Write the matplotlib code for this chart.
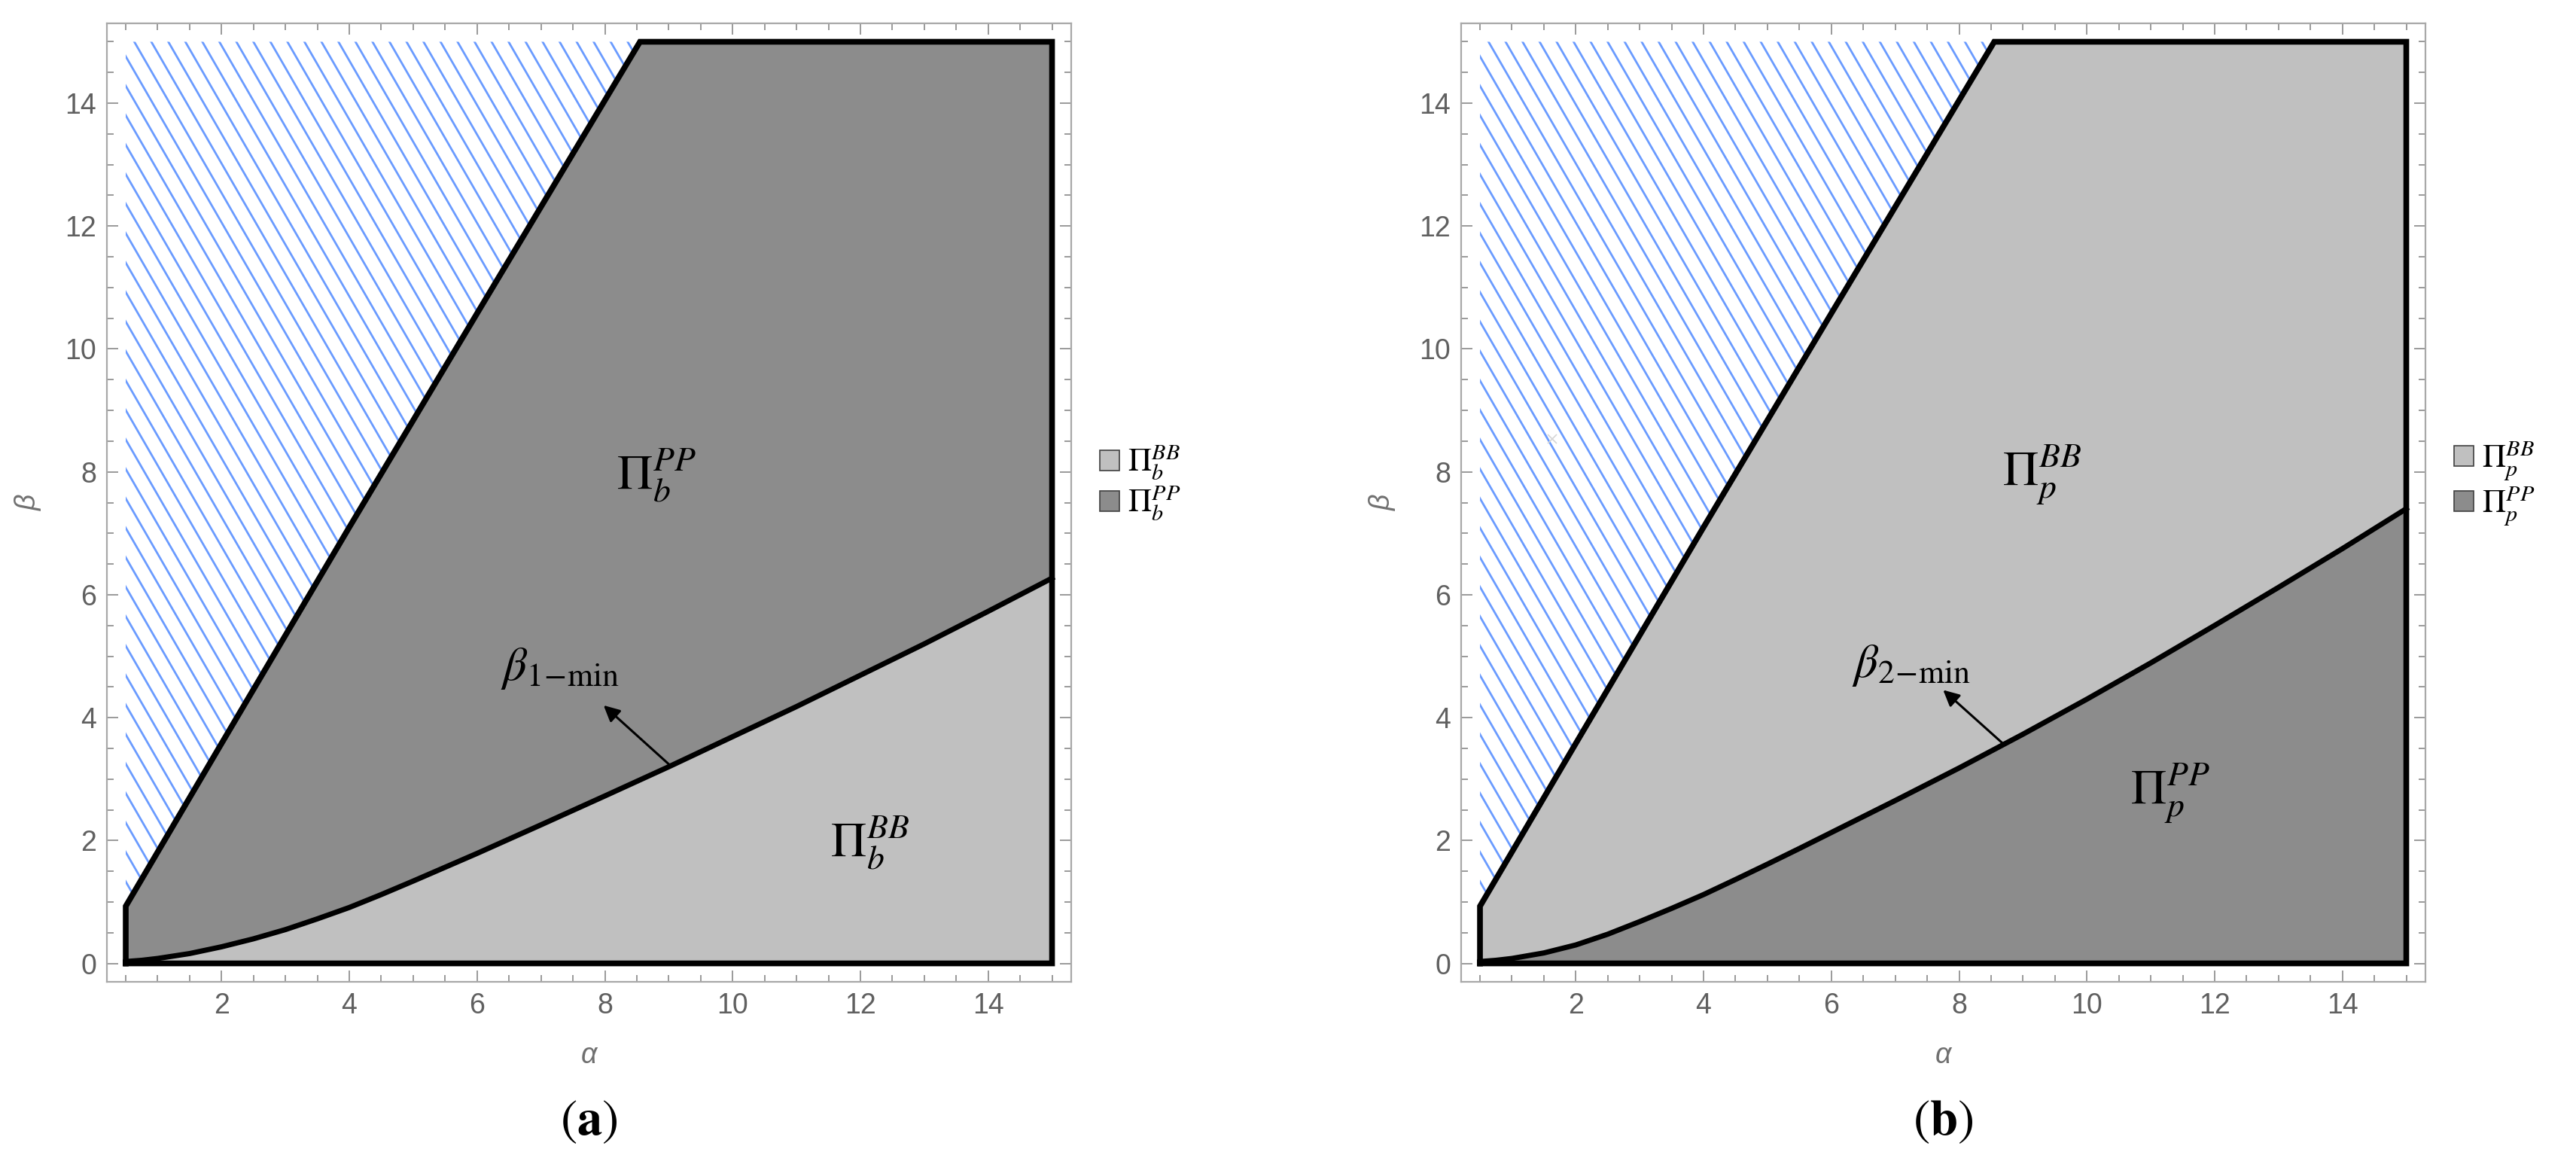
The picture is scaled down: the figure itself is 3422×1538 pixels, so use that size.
import numpy as np
import matplotlib
matplotlib.use("Agg")
import matplotlib.pyplot as plt
from matplotlib.patches import Polygon, Patch

plt.rcParams['mathtext.fontset'] = 'stix'
SANS = ['Liberation Sans Narrow', 'Liberation Sans', 'DejaVu Sans']

# ---------------- data ----------------
alpha_upper = [0.5, 2.0, 4.0, 6.0, 8.55]          # upper feasibility boundary
beta_upper = [0.93, 3.58, 7.10, 10.58, 15.0]
alpha_max = 15.0
beta_max = 15.0

alpha_curve = [0.5, 0.75, 1, 1.5, 2, 2.5, 3, 3.5, 4, 4.5, 5, 5.5, 6, 7, 8,
               9, 10, 11, 12, 13, 14, 15]
beta1_min = [0.03, 0.05, 0.08, 0.16, 0.27, 0.40, 0.55, 0.725, 0.91, 1.12,
             1.34, 1.565, 1.79, 2.255, 2.725, 3.20, 3.69, 4.18, 4.69, 5.20,
             5.73, 6.27]
beta2_min = [0.03, 0.05, 0.08, 0.17, 0.30, 0.475, 0.68, 0.895, 1.12, 1.365,
             1.615, 1.87, 2.13, 2.65, 3.18, 3.73, 4.30, 4.89, 5.50, 6.12,
             6.75, 7.40]

x_ticks = [2, 4, 6, 8, 10, 12, 14]
y_ticks = [0, 2, 4, 6, 8, 10, 12, 14]

panel_tags = ['a', 'b']
region_labels = [
    [r'$\Pi_b^{PP}$', r'$\Pi_b^{BB}$'],     # (above curve, below curve)
    [r'$\Pi_p^{BB}$', r'$\Pi_p^{PP}$'],
]
legend_labels = [
    [r'$\Pi_b^{BB}$', r'$\Pi_b^{PP}$'],
    [r'$\Pi_p^{BB}$', r'$\Pi_p^{PP}$'],
]
curve_labels = [r'$\beta_{1\!-\!\mathrm{min}}$', r'$\beta_{2\!-\!\mathrm{min}}$']

# label anchor positions (data coordinates)
label_above_xy = [(8.80, 7.95), (9.30, 7.95)]
label_below_xy = [(12.15, 1.96), (11.30, 2.77)]
curve_label_xy = [(7.30, 4.80), (7.25, 4.85)]
arrow_tip_xy = [(7.98, 4.20), (7.75, 4.45)]
arrow_base_alpha = [9.03, 8.70]
artifact_x = [[], [1.63]]
artifact_y = [[], [8.54]]

LIGHT = '#c0c0c0'
DARK = '#8c8c8c'
HATCH = '#6a9bff'
# colours: (above curve, below curve)
fills = [(DARK, LIGHT), (LIGHT, DARK)]

W, H = 3423, 1538
fig = plt.figure(figsize=(W / 100, H / 100), dpi=100)
frames_px = [(142, 31, 1423, 1304), (1941, 31, 3222, 1304)]

xlim = (0.205, 15.30)
ylim = (-0.30, 15.30)

for i, curve in enumerate([beta1_min, beta2_min]):
    l, t, r, b = frames_px[i]
    ax = fig.add_axes([l / W, 1 - b / H, (r - l) / W, (b - t) / H])
    ax.set_xlim(*xlim)
    ax.set_ylim(*ylim)

    ac = np.array(alpha_curve, float)
    bc = np.array(curve, float)
    au = np.array(alpha_upper, float)
    bu = np.array(beta_upper, float)

    # region above curve
    above = np.vstack([
        np.column_stack([[au[0]], [bc[0]]]),
        np.column_stack([au, bu]),
        [[alpha_max, beta_max]],
        np.column_stack([ac[::-1], bc[::-1]]),
    ])
    below = np.vstack([
        np.column_stack([ac, bc]),
        [[alpha_max, 0.0], [ac[0], 0.0]],
    ])
    ax.add_patch(Polygon(above, closed=True, facecolor=fills[i][0],
                         edgecolor='none', zorder=1))
    ax.add_patch(Polygon(below, closed=True, facecolor=fills[i][1],
                         edgecolor='none', zorder=1))

    # hatched infeasible region
    hatch_poly = np.vstack([np.column_stack([au, bu]),
                            [[au[0], beta_max]]])
    clip = Polygon(hatch_poly, closed=True, facecolor='none',
                   edgecolor='none', transform=ax.transData)
    ax.add_patch(clip)
    px_x = (r - l) / (xlim[1] - xlim[0])
    px_y = (b - t) / (ylim[1] - ylim[0])
    slope = np.tan(np.radians(60)) * px_x / px_y     # data units, going down-right
    step = 22.6 / px_x
    x0s = np.arange(0.634 - 40 * step, 9.5, step)
    for x0 in x0s:
        y_top, y_bot = beta_max + 0.5, -0.5
        xa = x0 - 0.5 / slope
        xb = x0 + (beta_max - y_bot) / slope
        ln, = ax.plot([xa, xb], [y_top, y_bot], color=HATCH, lw=2.0,
                      solid_capstyle='butt', zorder=2)
        ln.set_clip_path(clip)

    # outer black outline
    outline = np.vstack([[[au[0], 0.0]], np.column_stack([au, bu]),
                         [[alpha_max, beta_max], [alpha_max, 0.0], [au[0], 0.0]]])
    ax.plot(outline[:, 0], outline[:, 1], color='black', lw=5.5,
            solid_joinstyle='miter', zorder=4)
    ax.plot(ac, bc, color='black', lw=5.0, solid_joinstyle='round', zorder=4)

    # faint artifact marks
    if artifact_x[i]:
        ax.plot(artifact_x[i], artifact_y[i], marker='x', ls='none',
                color='#d6d6d6', ms=9, mew=1.2, zorder=3)

    # region labels
    ax.text(*label_above_xy[i], region_labels[i][0], fontsize=47,
            ha='center', va='center', zorder=5)
    ax.text(*label_below_xy[i], region_labels[i][1], fontsize=47,
            ha='center', va='center', zorder=5)

    # curve annotation
    base_y = float(np.interp(arrow_base_alpha[i], ac, bc))
    ax.annotate('', xy=arrow_tip_xy[i], xytext=(arrow_base_alpha[i], base_y),
                arrowprops=dict(arrowstyle='-|>', color='black', lw=2.2,
                                mutation_scale=32, shrinkA=0, shrinkB=0),
                zorder=5)
    ax.text(*curve_label_xy[i], curve_labels[i], fontsize=45,
            ha='center', va='center', zorder=5)

    # axes styling (Mathematica-like frame)
    for sp in ax.spines.values():
        sp.set_color('#a8a8a8')
        sp.set_linewidth(1.6)
    ax.set_xticks(x_ticks)
    ax.set_yticks(y_ticks)
    ax.set_xticks(np.arange(0.5, 15.01, 0.5), minor=True)
    ax.set_yticks(np.arange(0.0, 15.01, 0.5), minor=True)
    ax.tick_params(which='both', direction='in', top=True, right=True,
                   color='#9a9a9a', width=1.4)
    ax.tick_params(which='major', length=10.5, pad=10, labelsize=27,
                   labelcolor='#606060')
    ax.tick_params(which='minor', length=6.5)
    for lab in ax.get_xticklabels() + ax.get_yticklabels():
        lab.set_family(SANS)
    ax.set_xlabel('α', fontsize=27, color='#707070', style='italic',
                  family=SANS, labelpad=22)
    ax.set_ylabel('β', fontsize=27, color='#707070', style='italic',
                  family=SANS, labelpad=22)

    # legend
    handles = [Patch(facecolor=LIGHT, edgecolor='#404040', lw=1.2),
               Patch(facecolor=DARK, edgecolor='#404040', lw=1.2)]
    ax.legend(handles, legend_labels[i], loc='center left',
              bbox_to_anchor=(1.03, 0.52), frameon=False, fontsize=31,
              handlelength=0.6, handleheight=0.6, handletextpad=0.25,
              labelspacing=0.1, borderpad=0, borderaxespad=0)

    # panel tag
    fig.text((l + r) / 2 / W, 1 - 1488 / H, r'$(\mathbf{' + panel_tags[i] + r'})$',
             fontsize=48, ha='center', va='center')

fig.savefig('out.png', dpi=100)
